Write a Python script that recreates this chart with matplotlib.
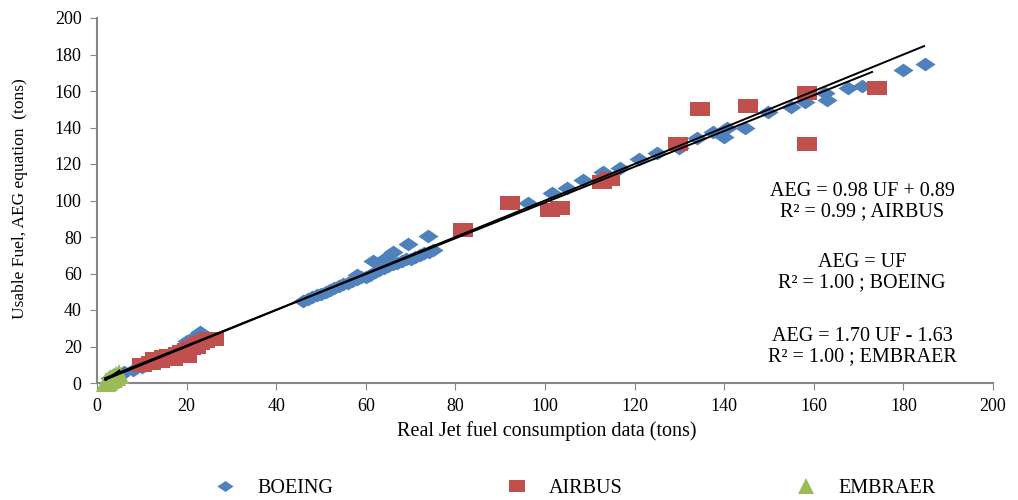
import matplotlib
matplotlib.use("Agg")
import matplotlib.pyplot as plt
import numpy as np

plt.rcParams['font.family'] = ['Liberation Serif', 'DejaVu Serif']

# ---- data ----
boeing_x = [3, 4, 5, 6, 8, 10, 11, 12, 13, 14, 15, 16, 18, 19, 20, 21, 22, 23, 24,
            46, 47, 48, 49, 50, 51, 52, 53, 54, 55, 56, 57, 58, 59, 60, 61, 62, 63, 64,
            65, 66, 67, 68, 69, 70, 71, 72, 73, 74, 75,
            58, 61.6, 64, 66, 69.4, 73.9,
            96.2, 101.6, 105, 108.5, 113, 116.7, 121, 125, 130, 134, 137.5, 140.6,
            140, 144.6, 149.8, 155, 158, 162.5, 163, 167.6, 170.8, 180, 184.8]
boeing_y = [3, 5, 4, 6, 7, 9, 10, 11, 12, 13, 14, 15, 17, 20, 23, 24, 25, 28, 26,
            45, 46, 47, 48, 49, 50, 51, 52, 53, 54, 55, 56, 57, 58, 58, 59, 61, 62, 63,
            64, 65, 66, 67, 68, 68, 69, 70, 71, 72, 73,
            59, 67, 68, 72, 76, 80.5,
            98.6, 104, 107, 111, 115.6, 118, 123, 126, 129, 134, 137.5, 140,
            135, 140, 148.5, 151, 154, 159, 155, 161.6, 163, 171.5, 175]

airbus_x = [10, 12, 13, 14, 15, 16, 17, 18, 19, 20, 21, 22, 23, 24, 25, 26, 20, 22,
            81.7, 92.2, 101, 103.3, 112.7, 114.5, 129.7, 134.6, 145.3, 158.5, 158.5, 174]
airbus_y = [10, 11, 13, 12, 14, 15, 13, 16, 17, 18, 19, 21, 22, 23, 24, 24, 15, 20,
            84, 98.6, 95, 96, 110, 112, 131, 150, 151.7, 159, 131, 161.6]

embraer_x = [2, 2.5, 3, 3.5, 4.2, 5]
embraer_y = [0.5, 1, 2, 2.8, 4, 4.8]

# trendline coefficients (slope, intercept, x-range)
boeing_fit = (1.00, 0.0, 1.8, 184.6)
airbus_fit = (0.98, 0.89, 1.8, 173.0)
embraer_fit = (1.70, -1.63, 2.0, 5.0)

xticks = list(range(0, 201, 20))
yticks = list(range(0, 201, 20))

# ---- figure ----
fig = plt.figure(figsize=(10.18, 5.0), dpi=100)
ax = fig.add_axes([0.0953, 0.234, 0.8802, 0.730])

blue = '#4F81BD'
red = '#C0504D'
green = '#9BBB59'

diamond = [(-1, 0), (0, 0.68), (1, 0), (0, -0.68), (-1, 0)]
rect = [(-1, -0.7), (1, -0.7), (1, 0.7), (-1, 0.7), (-1, -0.7)]

ax.plot(boeing_x, boeing_y, linestyle='none', marker=diamond, markersize=14.5,
        color=blue, markeredgewidth=0, label='BOEING', zorder=3)
ax.plot(airbus_x, airbus_y, linestyle='none', marker=rect, markersize=14.5,
        color=red, markeredgewidth=0, label='AIRBUS', zorder=3)
ax.plot(embraer_x, embraer_y, linestyle='none', marker='^', markersize=14,
        color=green, markeredgewidth=0, label='EMBRAER', zorder=4, clip_on=False)

for m, b, x0, x1 in (boeing_fit, airbus_fit, embraer_fit):
    xx = np.array([x0, x1])
    ax.plot(xx, m * xx + b, color='black', linewidth=1.4, zorder=5)

ax.set_xlim(0, 200)
ax.set_ylim(0, 200)
ax.set_xticks(xticks)
ax.set_yticks(yticks)
ax.tick_params(axis='both', labelsize=13, direction='out', length=5,
               color='#868686', pad=6)
for s in ('top', 'right'):
    ax.spines[s].set_visible(False)
for s in ('left', 'bottom'):
    ax.spines[s].set_color('#868686')
    ax.spines[s].set_linewidth(1.5)

ax.set_xlabel('Real Jet fuel consumption data (tons)', fontsize=14.5)
ax.xaxis.set_label_coords(0.502, -0.105)
ax.set_ylabel('Usable Fuel, AEG equation  (tons)', fontsize=12.5)
ax.yaxis.set_label_coords(-0.077, 0.505)

tx = 0.854
ax.text(tx, 0.497, 'AEG = 0.98 UF + 0.89\nR² = 0.99 ; AIRBUS', transform=ax.transAxes,
        ha='center', va='center', fontsize=14.5, linespacing=1.05)
ax.text(tx, 0.303, 'AEG = UF\nR² = 1.00 ; BOEING', transform=ax.transAxes,
        ha='center', va='center', fontsize=14.5, linespacing=1.05)
ax.text(tx, 0.100, 'AEG = 1.70 UF - 1.63\nR² = 1.00 ; EMBRAER', transform=ax.transAxes,
        ha='center', va='center', fontsize=14.5, linespacing=1.05)

fig.legend(loc='center', bbox_to_anchor=(0.565, 0.024), ncol=3, frameon=False,
           fontsize=14.5, columnspacing=8.6, handletextpad=1.1, markerscale=0.8,
           handlelength=1.0)

fig.savefig('out.png', dpi=100)
